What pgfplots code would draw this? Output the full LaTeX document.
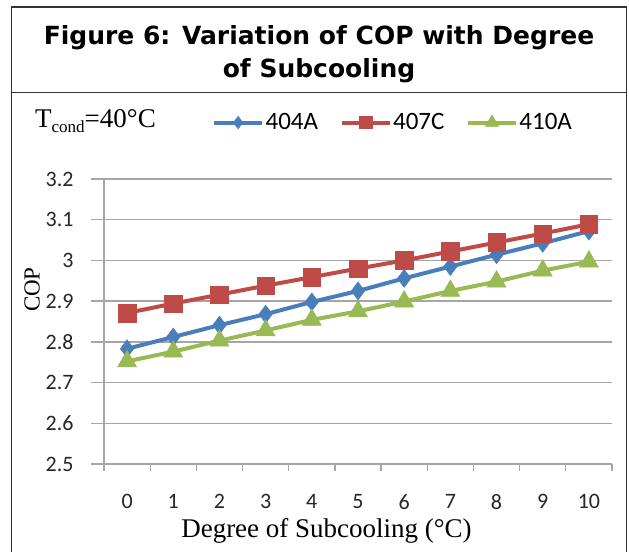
\documentclass[border=0pt]{standalone}
\usepackage{pgfplots}
\pgfplotsset{compat=1.18}
\usepackage{fontspec}
\setmainfont{Liberation Serif}
\newfontfamily\titlefont{DejaVu Sans}
\newfontfamily\calfont{Carlito}
\definecolor{cblue}{HTML}{4A7EBB}
\definecolor{cred}{HTML}{BE4B48}
\definecolor{cgreen}{HTML}{98B954}
\definecolor{cgrid}{HTML}{A6A6A6}
\begin{document}
\begin{tikzpicture}[x=1pt,y=1pt]
\useasboundingbox (0,0) rectangle (629,552);
% frame
\draw[line width=1.5pt, black!80] (11.5,0) -- (11.5,545) -- (626.5,545) -- (626.5,0);
\draw[line width=1.5pt, black!80] (11.5,459.3) -- (626.5,459.3);
\node[font=\titlefont\bfseries\fontsize{25}{30}\selectfont, anchor=base] at (319,507) {Figure 6: Variation of COP with Degree};
\node[font=\titlefont\bfseries\fontsize{25}{30}\selectfont, anchor=base] at (319,474) {of Subcooling};
\node[anchor=base west, font=\fontsize{27}{30}\selectfont, inner sep=0pt] at (35,424) {T\raisebox{-0.35ex}{\fontsize{17}{20}\selectfont cond}=40°C};
\begin{axis}[
  at={(104pt,88pt)}, anchor=south west,
  scale only axis, width=508pt, height=285pt,
  xmin=-0.5, xmax=10.5, ymin=2.5, ymax=3.2,
  axis x line*=bottom, axis y line*=left,
  axis line style={cgrid, line width=1.3pt},
  xtick={0,...,10},
  minor xtick={-0.5,0.5,...,10.5},
  major x tick style={draw=none},
  minor x tick style={cgrid, line width=1.3pt},
  minor tick length=7pt,
  ytick={2.5,2.6,2.7,2.8,2.9,3.0,3.1,3.2},
  yticklabels={2.5,2.6,2.7,2.8,2.9,3,3.1,3.2},
  major y tick style={cgrid, line width=1.3pt},
  major tick length=13pt,
  tick align=outside,
  ymajorgrids, grid style={cgrid, line width=1.3pt},
  /pgf/number format/assume math mode=true,
  ticklabel style={font=\calfont\fontsize{22}{25}\selectfont, text=black!85},
  xticklabel style={yshift=-14pt},
  yticklabel style={xshift=-14pt},
  xlabel={Degree of Subcooling (°C)},
  xlabel style={font=\fontsize{27}{30}\selectfont, at={(axis description cs:0.438,-0.258)}, anchor=base},
  ylabel={COP},
  ylabel style={font=\fontsize{23}{26}\selectfont, at={(axis description cs:-0.1415,0.612)}, anchor=center},
  legend columns=3,
  legend style={draw=none, fill=none, at={(axis description cs:0.2125,1.198)}, anchor=west,
    font=\calfont\fontsize{25}{28}\selectfont, inner sep=0pt,
    nodes={inner sep=1.5pt},
    /tikz/every even column/.append style={column sep=20pt}},
  legend image code/.code={\draw[mark repeat=2,mark phase=2,every mark/.append style={scale=0.7}] plot coordinates {(0pt,0pt) (24pt,0pt) (48pt,0pt)};},
  every axis plot/.append style={line width=4pt},
  clip=false,
]
\addplot[cblue, mark=diamond*, mark size=9pt, mark options={solid, line width=0.5pt}] coordinates {
(0,2.783) (1,2.812) (2,2.841) (3,2.868) (4,2.898) (5,2.925) (6,2.956) (7,2.985) (8,3.014) (9,3.042) (10,3.072)};
\addlegendentry{404A}
\addplot[cred, mark=square*, mark size=8.8pt, mark options={solid, line width=0.5pt}] coordinates {
(0,2.871) (1,2.894) (2,2.916) (3,2.938) (4,2.959) (5,2.980) (6,3.000) (7,3.022) (8,3.044) (9,3.066) (10,3.089)};
\addlegendentry{407C}
\addplot[cgreen, mark=triangle*, mark size=11pt, mark options={solid, line width=0.5pt}] coordinates {
(0,2.752) (1,2.776) (2,2.803) (3,2.828) (4,2.854) (5,2.875) (6,2.899) (7,2.925) (8,2.948) (9,2.975) (10,2.997)};
\addlegendentry{410A}
\end{axis}
\end{tikzpicture}
\end{document}
